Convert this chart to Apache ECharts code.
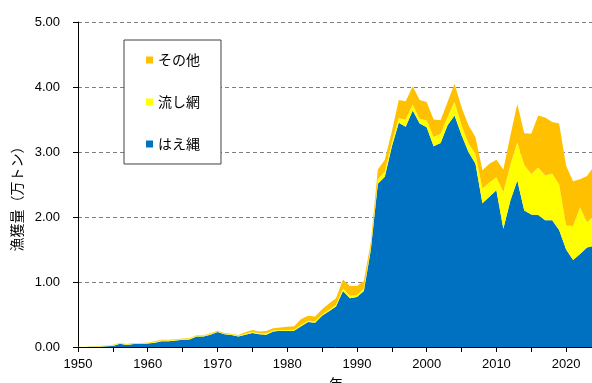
<!DOCTYPE html>
<html>
<head>
<meta charset="utf-8">
<script src="https://cdn.jsdelivr.net/npm/echarts@6/dist/echarts.min.js"></script>
<style>
  html, body { margin: 0; padding: 0; background: #fff; }
  #chart { width: 592px; height: 383px; }
</style>
</head>
<body>
<div id="chart"></div>
<script>
// Years of record
const years = [];
for (let y = 1950; y <= 2024; y++) years.push(String(y));

// Catch by gear (10,000 t)
const longline = [
  0.000, 0.000, 0.003, 0.005, 0.010, 0.015, 0.050, 0.030, 0.045, 0.045,
  0.055, 0.066, 0.087, 0.087, 0.100, 0.110, 0.117, 0.160, 0.160, 0.190,
  0.230, 0.195, 0.185, 0.160, 0.190, 0.215, 0.195, 0.190, 0.240, 0.250,
  0.245, 0.250, 0.320, 0.385, 0.375, 0.480, 0.550, 0.625, 0.860, 0.750,
  0.770, 0.860, 1.500, 2.510, 2.620, 3.080, 3.450, 3.390, 3.640, 3.440,
  3.380, 3.090, 3.140, 3.410, 3.560, 3.260, 3.000, 2.820, 2.210, 2.310,
  2.410, 1.820, 2.250, 2.560, 2.100, 2.040, 2.030, 1.950, 1.950, 1.800,
  1.500, 1.340, 1.430, 1.530, 1.560
];
const driftnet = [
  0.003, 0.003, 0.003, 0.005, 0.008, 0.013, 0.010, 0.010, 0.010, 0.010,
  0.010, 0.012, 0.013, 0.013, 0.012, 0.012, 0.013, 0.012, 0.012, 0.010,
  0.010, 0.010, 0.010, 0.012, 0.015, 0.020, 0.017, 0.020, 0.015, 0.012,
  0.015, 0.015, 0.020, 0.020, 0.020, 0.020, 0.025, 0.025, 0.040, 0.040,
  0.030, 0.040, 0.050, 0.070, 0.080, 0.070, 0.070, 0.110, 0.090, 0.070,
  0.110, 0.140, 0.140, 0.130, 0.210, 0.150, 0.130, 0.150, 0.230, 0.220,
  0.200, 0.560, 0.550, 0.590, 0.700, 0.620, 0.730, 0.690, 0.720, 0.700,
  0.370, 0.520, 0.720, 0.390, 0.460
];
const others = [
  0.002, 0.002, 0.004, 0.005, 0.007, 0.007, 0.006, 0.006, 0.005, 0.005,
  0.005, 0.009, 0.010, 0.010, 0.008, 0.008, 0.010, 0.008, 0.008, 0.010,
  0.010, 0.010, 0.010, 0.013, 0.021, 0.025, 0.028, 0.035, 0.035, 0.038,
  0.050, 0.055, 0.090, 0.075, 0.075, 0.080, 0.095, 0.100, 0.140, 0.150,
  0.140, 0.115, 0.070, 0.150, 0.180, 0.160, 0.280, 0.280, 0.280, 0.290,
  0.280, 0.270, 0.210, 0.230, 0.280, 0.280, 0.280, 0.260, 0.280, 0.290,
  0.270, 0.350, 0.450, 0.590, 0.490, 0.620, 0.800, 0.890, 0.790, 0.940,
  0.920, 0.690, 0.430, 0.710, 0.760
];

const seriesNames = ['はえ縄', '流し網', 'その他'];
const seriesColors = ['#0070C0', '#FFFF00', '#FFC000'];
const yTicks = [0, 1, 2, 3, 4, 5];

const FONT = '"Liberation Sans", Arial, "Noto Sans CJK JP", sans-serif';
const JFONT = '"Noto Sans CJK JP", "Liberation Sans", sans-serif';

const chart = echarts.init(document.getElementById('chart'), null, { renderer: 'canvas' });

chart.setOption({
  animation: false,
  backgroundColor: '#ffffff',
  grid: { left: 78, top: 22, right: -2, bottom: 36, outerBoundsMode: 'none', containLabel: false },
  legend: {
    data: ['その他', '流し網', 'はえ縄'],
    orient: 'vertical',
    left: 124,
    top: 40,
    padding: [13, 21, 13, 22],
    itemGap: 28,
    itemWidth: 7,
    itemHeight: 7,
    icon: 'rect',
    borderColor: '#404040',
    borderWidth: 1,
    backgroundColor: '#ffffff',
    textStyle: { fontFamily: JFONT, fontSize: 14, color: '#000' }
  },
  xAxis: {
    type: 'category',
    data: years,
    boundaryGap: false,
    name: '年',
    nameLocation: 'middle',
    nameGap: 30,
    nameTextStyle: { fontFamily: JFONT, fontSize: 14, color: '#000' },
    axisLine: { lineStyle: { color: '#000', width: 1 } },
    axisTick: {
      show: true, inside: false, length: 5,
      interval: (i, v) => Number(v) % 5 === 0,
      lineStyle: { color: '#000' }
    },
    axisLabel: {
      margin: 11,
      fontFamily: FONT,
      fontSize: 13,
      color: '#000',
      interval: (i, v) => Number(v) % 10 === 0
    },
    splitLine: { show: false }
  },
  yAxis: {
    type: 'value',
    min: yTicks[0],
    max: yTicks[yTicks.length - 1],
    interval: 1,
    name: '漁獲量（万トン）',
    nameLocation: 'middle',
    nameGap: 42,
    nameRotate: 90,
    nameTextStyle: { fontFamily: JFONT, fontSize: 14, color: '#000', padding: [0, 22, 0, 0] },
    axisLine: { show: true, lineStyle: { color: '#000', width: 1 } },
    axisTick: { show: true, inside: false, length: 5, lineStyle: { color: '#000' } },
    axisLabel: {
      margin: 18,
      fontFamily: FONT,
      fontSize: 13,
      color: '#000',
      formatter: v => v.toFixed(2)
    },
    splitLine: { show: true, lineStyle: { color: '#808080', type: [4, 3], width: 1.2 } }
  },
  series: seriesNames.map((name, k) => ({
    name,
    type: 'line',
    stack: 'catch',
    data: [longline, driftnet, others][k],
    symbol: 'none',
    showSymbol: false,
    lineStyle: { width: 0 },
    areaStyle: { color: seriesColors[k], opacity: 1 },
    itemStyle: { color: seriesColors[k] },
    z: 2
  }))
});
</script>
</body>
</html>
